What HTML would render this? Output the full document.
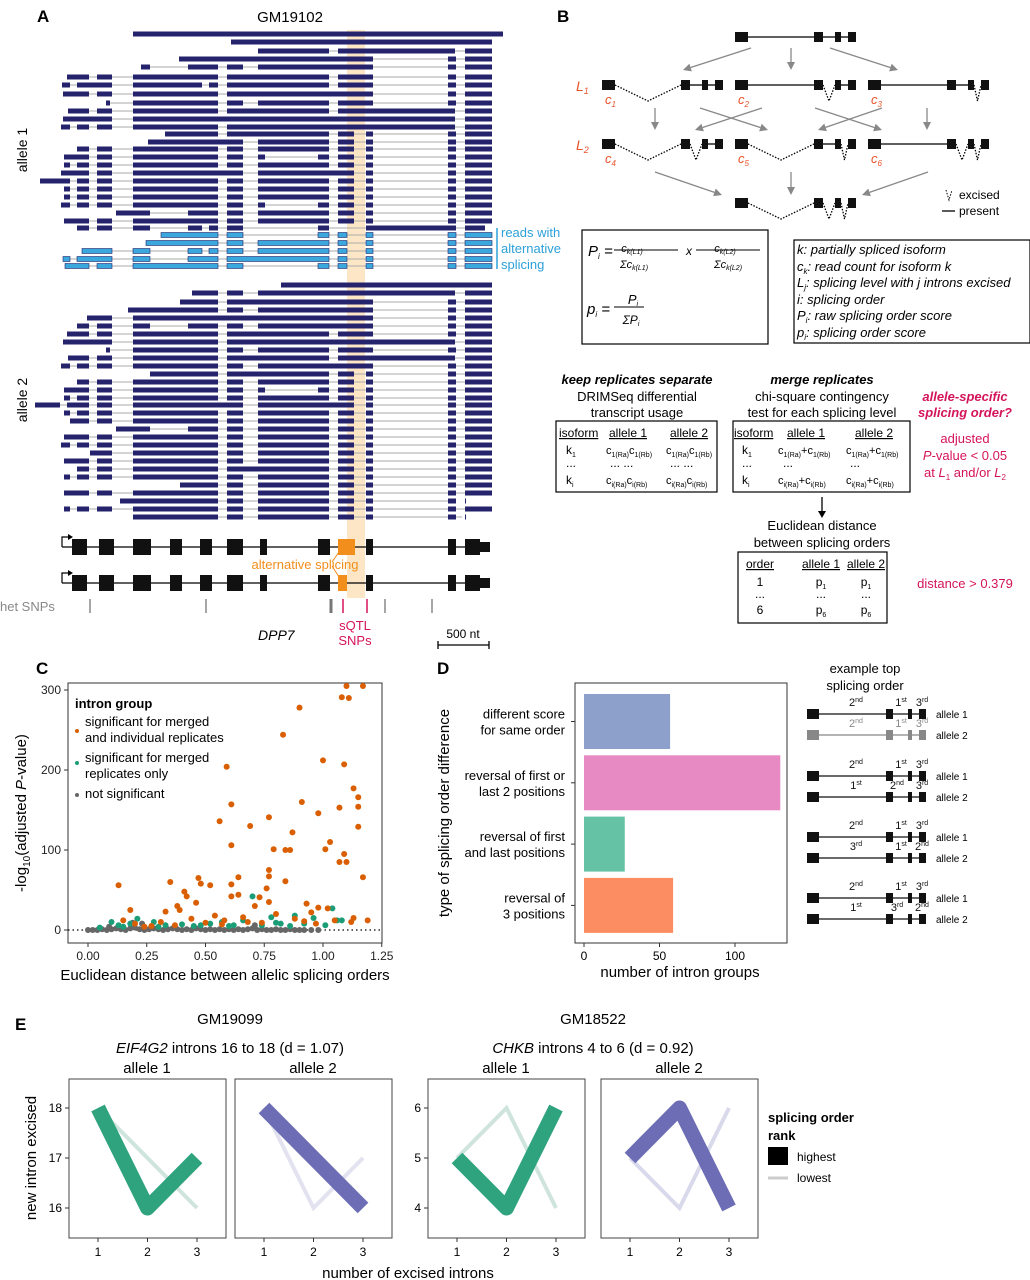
<!DOCTYPE html>
<html><head><meta charset="utf-8"><style>
body{margin:0;background:#fff;}
svg{font-family:"Liberation Sans",Arial,sans-serif;display:block}
</style></head><body>
<svg id="fig" width="1030" height="1280" viewBox="0 0 1030 1280" xmlns="http://www.w3.org/2000/svg">
<!-- Panel labels -->
<text x="37" y="22" font-size="17" font-weight="bold">A</text>
<text x="557" y="22" font-size="17" font-weight="bold">B</text>
<text x="36" y="674" font-size="17" font-weight="bold">C</text>
<text x="437" y="674" font-size="17" font-weight="bold">D</text>
<text x="15" y="1030" font-size="17" font-weight="bold">E</text>

<!-- Panel A -->
<g id="panelA">
<text x="290" y="22" font-size="15" text-anchor="middle">GM19102</text>
<rect x="347" y="30" width="18" height="568" fill="#fde6c6"/>
<g id="reads"></g>
<text transform="translate(27,150) rotate(-90)" font-size="14" text-anchor="middle">allele 1</text>
<text transform="translate(27,400) rotate(-90)" font-size="14" text-anchor="middle">allele 2</text>
<line x1="497" y1="228" x2="497" y2="269" stroke="#2ca0d8" stroke-width="1.5"/>
<text x="501" y="237" font-size="13" fill="#2ca0d8">reads with</text>
<text x="501" y="253" font-size="13" fill="#2ca0d8">alternative</text>
<text x="501" y="269" font-size="13" fill="#2ca0d8">splicing</text>
<g id="genes"></g>
<text x="305" y="569" font-size="13" fill="#f28e1c" text-anchor="middle">alternative splicing</text>
<polyline points="332,562 339,552 M332,566" fill="none" stroke="#f28e1c"/>
<line x1="332" y1="566" x2="339" y2="577" stroke="#f28e1c"/>
<text x="0" y="611" font-size="13" fill="#888">het SNPs</text>
<g id="snps"></g>
<text x="355" y="630" font-size="13" fill="#d4145a" text-anchor="middle">sQTL</text>
<text x="355" y="645" font-size="13" fill="#d4145a" text-anchor="middle">SNPs</text>
<text x="258" y="640" font-size="14" font-style="italic">DPP7</text>
<text x="463" y="638" font-size="12" text-anchor="middle">500 nt</text>
<path d="M438,641 V649 M438,645 H489 M489,641 V649" stroke="#000" stroke-width="1.3" fill="none"/>
</g>

<!-- Panel B -->
<g id="panelB">
<g id="isoforms"></g>
<g id="arrowsB" stroke="#888" stroke-width="1.3" fill="#888"></g>
<text x="576" y="91" font-size="14" font-style="italic" fill="#e8542b">L<tspan font-size="9" dy="3">1</tspan></text>
<text x="576" y="150" font-size="14" font-style="italic" fill="#e8542b">L<tspan font-size="9" dy="3">2</tspan></text>
<path d="M946,190 L949,200 L952,190" stroke="#000" stroke-dasharray="1.5,1.5" fill="none"/>
<text x="959" y="199" font-size="12">excised</text>
<line x1="942" y1="211" x2="955" y2="211" stroke="#000" stroke-width="1.3"/>
<text x="959" y="215" font-size="12">present</text>

<rect x="582" y="230" width="186" height="114" fill="none" stroke="#000" stroke-width="1.2"/>
<g font-style="italic">
<text x="588" y="256" font-size="15">P<tspan font-size="8" dy="3">i</tspan><tspan dy="-3"> =</tspan></text>
<text x="632" y="252" font-size="11" text-anchor="middle">c<tspan font-size="7" dy="2">k(L1)</tspan></text>
<line x1="614" y1="250" x2="678" y2="250" stroke="#000"/>
<text x="634" y="268" font-size="11" text-anchor="middle">Σc<tspan font-size="7" dy="2">k(L1)</tspan></text>
<text x="686" y="255" font-size="12">x</text>
<text x="725" y="252" font-size="11" text-anchor="middle">c<tspan font-size="7" dy="2">k(L2)</tspan></text>
<line x1="696" y1="250" x2="760" y2="250" stroke="#000"/>
<text x="728" y="268" font-size="11" text-anchor="middle">Σc<tspan font-size="7" dy="2">k(L2)</tspan></text>
<text x="587" y="314" font-size="15">p<tspan font-size="8" dy="3">i</tspan><tspan dy="-3"> =</tspan></text>
<text x="633" y="304" font-size="13" text-anchor="middle">P<tspan font-size="7" dy="2">i</tspan></text>
<line x1="614" y1="307" x2="644" y2="307" stroke="#000"/>
<text x="631" y="324" font-size="12" text-anchor="middle">ΣP<tspan font-size="7" dy="2">i</tspan></text>
</g>
<rect x="794" y="240" width="236" height="103" fill="none" stroke="#000" stroke-width="1.2"/>
<g font-size="13" font-style="italic">
<text x="797" y="254">k: partially spliced isoform</text>
<text x="797" y="271">c<tspan font-size="8" dy="3">k</tspan><tspan dy="-3">: read count for isoform k</tspan></text>
<text x="797" y="287">L<tspan font-size="8" dy="3">j</tspan><tspan dy="-3">: splicing level with j introns excised</tspan></text>
<text x="797" y="304">i: splicing order</text>
<text x="797" y="320">P<tspan font-size="8" dy="3">i</tspan><tspan dy="-3">: raw splicing order score</tspan></text>
<text x="797" y="337">p<tspan font-size="8" dy="3">i</tspan><tspan dy="-3">: splicing order score</tspan></text>
</g>

<g font-size="13" text-anchor="middle">
<text x="637" y="384" font-weight="bold" font-style="italic">keep replicates separate</text>
<text x="637" y="401">DRIMSeq differential</text>
<text x="637" y="417">transcript usage</text>
<text x="822" y="384" font-weight="bold" font-style="italic">merge replicates</text>
<text x="822" y="401">chi-square contingency</text>
<text x="822" y="417">test for each splicing level</text>
<text x="965" y="401" font-weight="bold" font-style="italic" fill="#d4145a">allele-specific</text>
<text x="965" y="417" font-weight="bold" font-style="italic" fill="#d4145a">splicing order?</text>
<text x="965" y="443" fill="#d4145a">adjusted</text>
<text x="965" y="460" fill="#d4145a"><tspan font-style="italic">P</tspan>-value &lt; 0.05</text>
<text x="965" y="477" fill="#d4145a">at <tspan font-style="italic">L</tspan><tspan font-size="8" dy="3">1</tspan><tspan dy="-3"> and/or </tspan><tspan font-style="italic">L</tspan><tspan font-size="8" dy="3">2</tspan></text>
<text x="822" y="530">Euclidean distance</text>
<text x="822" y="547">between splicing orders</text>
<text x="965" y="588" fill="#d4145a">distance &gt; 0.379</text>
</g>
<rect x="556" y="421" width="161" height="71" fill="none" stroke="#000" stroke-width="1.2"/>
<g font-size="12">
<text x="559" y="437" text-decoration="underline">isoform</text><text x="609" y="437" text-decoration="underline">allele 1</text><text x="670" y="437" text-decoration="underline">allele 2</text>
<text x="566" y="454">k<tspan font-size="7" dy="3">1</tspan></text><text x="566" y="467">...</text><text x="566" y="484">k<tspan font-size="7" dy="3">i</tspan></text>
<text x="606" y="454" font-size="11">c<tspan font-size="7" dy="3">1(Ra)</tspan><tspan dy="-3">c</tspan><tspan font-size="7" dy="3">1(Rb)</tspan></text>
<text x="666" y="454" font-size="11">c<tspan font-size="7" dy="3">1(Ra)</tspan><tspan dy="-3">c</tspan><tspan font-size="7" dy="3">1(Rb)</tspan></text>
<text x="610" y="467">...  ...</text><text x="670" y="467">...  ...</text>
<text x="606" y="484" font-size="11">c<tspan font-size="7" dy="3">i(Ra)</tspan><tspan dy="-3">c</tspan><tspan font-size="7" dy="3">i(Rb)</tspan></text>
<text x="666" y="484" font-size="11">c<tspan font-size="7" dy="3">i(Ra)</tspan><tspan dy="-3">c</tspan><tspan font-size="7" dy="3">i(Rb)</tspan></text>
</g>
<rect x="733" y="421" width="177" height="71" fill="none" stroke="#000" stroke-width="1.2"/>
<g font-size="12">
<text x="734" y="437" text-decoration="underline">isoform</text><text x="787" y="437" text-decoration="underline">allele 1</text><text x="855" y="437" text-decoration="underline">allele 2</text>
<text x="742" y="454">k<tspan font-size="7" dy="3">1</tspan></text><text x="742" y="467">...</text><text x="742" y="484">k<tspan font-size="7" dy="3">i</tspan></text>
<text x="778" y="454" font-size="11">c<tspan font-size="7" dy="3">1(Ra)</tspan><tspan dy="-3">+c</tspan><tspan font-size="7" dy="3">1(Rb)</tspan></text>
<text x="846" y="454" font-size="11">c<tspan font-size="7" dy="3">1(Ra)</tspan><tspan dy="-3">+c</tspan><tspan font-size="7" dy="3">1(Rb)</tspan></text>
<text x="783" y="467">...</text><text x="850" y="467">...</text>
<text x="778" y="484" font-size="11">c<tspan font-size="7" dy="3">i(Ra)</tspan><tspan dy="-3">+c</tspan><tspan font-size="7" dy="3">i(Rb)</tspan></text>
<text x="846" y="484" font-size="11">c<tspan font-size="7" dy="3">i(Ra)</tspan><tspan dy="-3">+c</tspan><tspan font-size="7" dy="3">i(Rb)</tspan></text>
</g>
<line x1="822" y1="497" x2="822" y2="512" stroke="#000" stroke-width="1.3"/>
<path d="M818,511 L826,511 L822,518 Z" fill="#000"/>
<rect x="738" y="552" width="149" height="71" fill="none" stroke="#000" stroke-width="1.2"/>
<g font-size="12" text-anchor="middle">
<text x="760" y="568" text-decoration="underline">order</text><text x="821" y="568" text-decoration="underline">allele 1</text><text x="866" y="568" text-decoration="underline">allele 2</text>
<text x="760" y="586">1</text><text x="821" y="586">p<tspan font-size="7" dy="3">1</tspan></text><text x="866" y="586">p<tspan font-size="7" dy="3">1</tspan></text>
<text x="760" y="598">...</text><text x="821" y="598">...</text><text x="866" y="598">...</text>
<text x="760" y="614">6</text><text x="821" y="614">p<tspan font-size="7" dy="3">6</tspan></text><text x="866" y="614">p<tspan font-size="7" dy="3">6</tspan></text>
</g>
</g>

<!-- Panel C -->
<g id="panelC">
<rect x="68" y="683" width="314" height="260" fill="#fff" stroke="#333" stroke-width="1"/>
<line x1="68" y1="930" x2="382" y2="930" stroke="#000" stroke-dasharray="1.5,3" stroke-width="1.3"/>
<g id="cAxes"></g>
<g id="cPoints"></g>
<g>
<text x="75" y="708" font-size="13" font-weight="bold">intron group</text>
<circle cx="77" cy="731" r="2" fill="#d95f02"/>
<text x="85" y="726" font-size="13">significant for merged</text>
<text x="85" y="742" font-size="13">and individual replicates</text>
<circle cx="77" cy="763" r="2" fill="#1b9e77"/>
<text x="85" y="762" font-size="13">significant for merged</text>
<text x="85" y="778" font-size="13">replicates only</text>
<circle cx="77" cy="795" r="2" fill="#666"/>
<text x="85" y="798" font-size="13">not significant</text>
</g>
<text transform="translate(26,813) rotate(-90)" font-size="15" text-anchor="middle">-log<tspan font-size="10" dy="4">10</tspan><tspan dy="-4">(adjusted </tspan><tspan font-style="italic">P</tspan>-value)</text>
<text x="225" y="980" font-size="15" text-anchor="middle">Euclidean distance between allelic splicing orders</text>
</g>

<!-- Panel D -->
<g id="panelD">
<rect x="575" y="683" width="212" height="260" fill="#fff" stroke="#333"/>
<g id="dBars"></g>
<text transform="translate(449,813) rotate(-90)" font-size="15" text-anchor="middle">type of splicing order difference</text>
<text x="680" y="977" font-size="15" text-anchor="middle">number of intron groups</text>
<text x="865" y="673" font-size="13" text-anchor="middle">example top</text>
<text x="865" y="690" font-size="13" text-anchor="middle">splicing order</text>
<g id="examples"></g>
</g>

<!-- Panel E -->
<g id="panelE">
<text x="230" y="1024" font-size="15" text-anchor="middle">GM19099</text>
<text x="230" y="1053" font-size="15" text-anchor="middle"><tspan font-style="italic">EIF4G2</tspan> introns 16 to 18 (d = 1.07)</text>
<text x="593" y="1024" font-size="15" text-anchor="middle">GM18522</text>
<text x="593" y="1053" font-size="15" text-anchor="middle"><tspan font-style="italic">CHKB</tspan> introns 4 to 6 (d = 0.92)</text>
<g id="ePanels"></g>
<text transform="translate(36,1158) rotate(-90)" font-size="15" text-anchor="middle">new intron excised</text>
<text x="408" y="1278" font-size="15" text-anchor="middle">number of excised introns</text>
<g>
<text x="768" y="1122" font-size="13" font-weight="bold">splicing order</text>
<text x="768" y="1140" font-size="13" font-weight="bold">rank</text>
<rect x="768" y="1147" width="20" height="18" fill="#000"/>
<text x="797" y="1161" font-size="12">highest</text>
<line x1="768" y1="1178" x2="788" y2="1178" stroke="#ccc" stroke-width="3"/>
<text x="797" y="1182" font-size="12">lowest</text>
</g>
</g>
</svg>
<script>
const NS="http://www.w3.org/2000/svg";
function mk(tag,attrs,parent){const e=document.createElementNS(NS,tag);for(const k in attrs)e.setAttribute(k,attrs[k]);parent.appendChild(e);return e;}

// ---------- Panel A reads ----------
const allele1Reads=["133-503","231-492","258-329,338-455,465-492","179-373,448-456,465-492","141-150,188-218,227-243,258-373,448-456,465-492","67-89,97-112,133-218,227-329,338-373,448-456,465-492","62-70,77-112,133-202,209-218,227-329,338-373,448-456,465-492","63-89,97-112,133-218,227-373,448-456,465-492","106-110,133-218,227-243,258-329,338-373,448-456,465-492","68-89,97-112,133-218,227-329,338-455,465-492","63-112,133-455,465-492","61-70,77-89,97-112,133-218,227-455,465-492","165-218,227-329,338-354,366-373,448-456,465-492","148-243,258-329,338-354,366-373,448-456,465-492","77-89,97-112,133-218,227-243,258-329,338-354,366-373,448-456,465-492","64-89,97-112,133-218,227-243,258-265,318-329,338-354,366-373,448-456,465-492","64-70,77-89,97-112,133-218,227-243,258-329,338-354,366-373,448-456,465-492","61-89,97-112,133-243,258-354,366-373,448-456,465-492","40-70,77-89,97-112,133-218,227-243,258-329,338-354,366-373,448-456,465-492","64-70,77-89,97-112,133-218,227-243,258-329,338-354,366-373,448-456,465-492","64-70,77-89,97-112,133-218,227-243,258-329,338-354,366-373,448-456,465-492","61-70,77-89,97-112,133-218,227-243,258-265,318-329,338-354,366-373,448-456,465-492","116-150,188-218,227-243,258-329,338-354,366-373,448-456,465-492","64-89,97-112,133-218,227-243,258-329,338-354,366-373,448-456,465-492","77-89,97-112,133-150,188-202,209-218,227-243,318-329,366-456,465-485"];
const allele1Y=[34,42,51,59,67,77,85,94,103,111,119,127,134,142,149,157,165,173,181,189,197,205,213,221,228];
const altReads=["161-218,227-243,318-329,338-347,366-373,448-456,465-492","146-218,227-243,258-329,338-347,366-373,448-456,465-492","82-112,133-150,188-202,209-218,227-243,258-329,338-347,366-373,448-456,465-492","63-70,77-112,133-150,188-218,227-329,338-347,366-373,448-456,465-492","65-89,97-112,133-218,227-243,318-329,338-347,366-373,448-456,465-492"];
const altY=[235,243,251,259,266];
const allele2Reads=["281-492","192-218,227-243,258-455,465-492","180-218,227-373,448-456,465-492","128-218,227-243,258-373,448-456,465-492","87-112,133-373,448-456,465-492","77-89,97-112,133-150,188-218,227-243,258-373,448-456,465-492","67-89,97-112,133-218,227-329,338-373,448-456,465-492","63-112,133-218,227-455,465-492","106-110,133-218,227-243,258-329,338-373,448-456,465-492","68-89,97-112,133-218,227-329,338-455,465-492","61-70,77-89,97-112,133-218,227-243,258-373,448-456,465-492","150-218,227-329,338-354,366-373,448-456,465-492","77-89,97-112,133-218,227-243,258-329,338-354,366-373,448-456,465-492","64-89,97-112,133-218,227-243,258-265,318-329,338-354,366-373,448-456,465-492","64-70,77-89,97-112,133-218,227-243,258-329,338-354,366-373,448-456,465-492","35-60,67-89,97-112,133-243,258-354,366-373,448-456,465-492","64-70,77-89,97-112,133-218,227-243,258-329,338-354,366-373,448-456,465-492","70-89,97-112,133-218,227-243,258-329,338-354,366-373,448-456,465-492","116-150,188-218,227-243,258-329,338-354,366-373,448-456,465-492","64-89,97-112,133-218,227-243,258-329,338-354,366-373,448-456,465-492","61-70,77-89,97-112,133-218,227-243,258-329,338-354,366-373,448-456,465-492","90-112,133-218,227-243,258-329,338-354,366-373,448-456,465-492","64-89,97-112,133-218,227-243,258-329,338-354,366-373,448-456,465-492","77-89,97-112,133-218,227-329,338-354,366-373,448-456,465-492","64-70,77-89,97-112,133-218,227-243,258-329,338-354,366-373,448-456,465-492","180-218,227-243,258-329,338-354,366-373,448-456,465-492","64-89,97-112,133-218,227-243,258-329,338-354,366-373,448-456,465-492","120-218,227-243,258-329,338-354,366-373,448-456,465-455","64-70,77-89,97-112,133-218,227-243,258-329,338-354,366-373,448-456,465-492","133-218,227-243,258-329,338-354,366-373,448-456,465-462"];
const allele2Y=[285,293,302,310,318,326,334,342,350,358,366,374,382,390,398,405,413,421,429,437,445,453,461,469,477,485,493,501,509,517];
const readsG=document.getElementById('reads');
function drawRead(str,y,fill,stroke,name){
  const segs=str.split(',').map(s=>s.split('-').map(Number));
  const x0=segs[0][0], x1=Math.max(...segs.map(s=>s[1]));
  const g=mk('g',{},readsG);
  
  
  mk('line',{x1:x0,y1:y,x2:x1,y2:y,stroke:'#aaa','stroke-width':1},g);
  segs.forEach(s=>{mk('rect',{x:s[0],y:y-2.5,width:Math.max(1,s[1]-s[0]),height:5,fill:fill,stroke:stroke,'stroke-width':stroke==='none'?0:0.6},g);});
}
allele1Reads.forEach((r,i)=>drawRead(r,allele1Y[i],'#24236b','none','allele1-read'));
altReads.forEach((r,i)=>drawRead(r,altY[i],'#3aa8dc','#24236b','alt-splicing-read'));
allele2Reads.forEach((r,i)=>drawRead(r,allele2Y[i],'#24236b','none','allele2-read'));

// gene models
const geneExons=[[72,87],[99,114],[133,151],[170,182],[200,212],[227,243],[260,267],[318,330],[366,373],[448,456],[465,480]];
const genesG=document.getElementById('genes');
[[547,[338,355]],[583,[338,347]]].forEach((gm,gi)=>{
  const y=gm[0];
  const g=mk('g',{},genesG);
  
  
  mk('line',{x1:62,y1:y,x2:490,y2:y,stroke:'#000','stroke-width':1.3},g);
  mk('path',{d:`M62,${y} V${y-10} H70`,stroke:'#000',fill:'none','stroke-width':1.2},g);
  mk('path',{d:`M68,${y-13} L73,${y-10} L68,${y-7}Z`,fill:'#000'},g);
  geneExons.forEach(e=>mk('rect',{x:e[0],y:y-8,width:e[1]-e[0],height:16,fill:'#111'},g));
  mk('rect',{x:480,y:y-5,width:10,height:10,fill:'#111'},g);
  mk('rect',{x:gm[1][0],y:y-8,width:gm[1][1]-gm[1][0],height:16,fill:'#f28e1c'},g);
});
const snpG=document.getElementById('snps');
[[90,'#888',1.5],[206,'#888',1.5],[331,'#777',3],[343,'#d4145a',1.5],[367,'#d4145a',1.5],[385,'#888',1.5],[432,'#888',1.5]].forEach(s=>{
  const l=mk('line',{x1:s[0],y1:599,x2:s[0],y2:613,stroke:s[1],'stroke-width':s[2]},snpG);
  
  
});

// ---------- Panel B isoforms ----------
const isoG=document.getElementById('isoforms');
// exon boxes relative to start; introns between
const isoBoxes=[[0,13],[79,88],[100,106],[113,121]];
// [startX, y, excised introns (0,1,2), label]
const isoList=[[735,37,[],''],[602,85,[0],'c1'],[735,85,[1],'c2'],[868,85,[2],'c3'],[602,144,[0,1],'c4'],[735,144,[0,2],'c5'],[868,144,[1,2],'c6'],[735,203,[0,1,2],'']];
isoList.forEach(iso=>{
  const [sx,y,ex,lab]=iso;
  const g=mk('g',{},isoG);
  
  
  for(let k=0;k<3;k++){
    const a=sx+isoBoxes[k][1], b=sx+isoBoxes[k+1][0];
    if(ex.includes(k)){
      mk('path',{d:`M${a},${y} L${(a+b)/2},${y+16} L${b},${y}`,stroke:'#000','stroke-width':1.3,'stroke-dasharray':'1.5,1.5',fill:'none'},g);
    } else mk('line',{x1:a,y1:y,x2:b,y2:y,stroke:'#000','stroke-width':1.3},g);
  }
  isoBoxes.forEach(bx=>mk('rect',{x:sx+bx[0],y:y-5,width:bx[1]-bx[0],height:10,fill:'#111'},g));
  if(lab){const t=mk('text',{x:sx+3,y:y+19,'font-size':13,'font-style':'italic',fill:'#e8542b'},g);t.textContent='c';const ts=mk('tspan',{'font-size':8,dy:3},t);ts.textContent=lab.slice(1);}
});
const arrows=[[751,48,683,70],[791,48,791,70],[830,48,898,70],[655,108,655,130],[700,108,768,130],[762,108,695,130],[815,108,882,130],[882,108,818,130],[927,108,927,130],[655,172,722,195],[791,172,791,195],[928,172,862,195]];
const arG=document.getElementById('arrowsB');
arrows.forEach(a=>{
  const [x1,y1,x2,y2]=a;const ang=Math.atan2(y2-y1,x2-x1);const L=8,W=4;
  const bx=x2-L*Math.cos(ang),by=y2-L*Math.sin(ang);
  const g=mk('g',{},arG);
  
  
  mk('line',{x1:x1,y1:y1,x2:bx,y2:by},g);
  mk('path',{d:`M${x2},${y2} L${bx-W*Math.sin(ang)},${by+W*Math.cos(ang)} L${bx+W*Math.sin(ang)},${by-W*Math.cos(ang)}Z`,stroke:'none'},g);
});

// ---------- Panel C scatter ----------
const sigX=[0.13,0.18,0.15,0.35,0.33,0.38,0.39,0.41,0.42,0.46,0.47,0.48,0.52,0.56,0.59,0.61,0.61,0.61,0.61,0.64,0.64,0.69,0.71,0.73,0.76,0.77,0.77,0.77,0.77,0.79,0.83,0.84,0.84,0.86,0.87,0.90,0.91,0.93,0.98,1.00,1.01,1.03,0.98,1.02,1.07,1.07,1.09,1.08,1.11,1.09,1.10,1.13,1.15,1.15,1.15,1.17,1.10,1.17,1.13,1.19,0.20,0.27,0.31,0.44,0.50,0.54,0.58,0.66,0.68,0.80,0.88,0.95,0.97,1.05,1.12,0.24,0.37,0.57,0.74,0.92];
const sigY=[56,25,12,60,23,30,25,48,42,34,65,58,56,136,204,157,106,57,42,66,44,130,30,41,52,141,75,67,35,101,244,61,100,100,122,278,160,33,146,212,101,110,28,27,153,85,207,291,290,95,85,177,166,154,129,66,305,305,15,12,8,5,10,14,9,18,12,16,10,20,14,22,8,12,10,4,6,7,9,11];
const mergedX=[0.05,0.10,0.13,0.18,0.21,0.28,0.33,0.40,0.45,0.52,0.57,0.62,0.66,0.70,0.74,0.78,0.82,0.86,0.88,0.96,1.01,1.04,1.06,1.08,0.30,0.60,0.92,0.15,0.48,0.80];
const mergedY=[3,10,6,8,14,10,6,7,5,8,10,6,12,42,6,16,8,5,18,15,6,27,12,12,4,5,8,4,6,9];
const nsX=[0.00,0.02,0.04,0.06,0.08,0.10,0.12,0.14,0.16,0.18,0.20,0.22,0.24,0.26,0.28,0.30,0.32,0.34,0.36,0.38,0.40,0.42,0.44,0.46,0.48,0.50,0.52,0.54,0.56,0.58,0.60,0.62,0.64,0.66,0.68,0.70,0.72,0.74,0.76,0.78,0.80,0.82,0.84,0.86,0.88,0.90,0.92,0.95,0.98,0.19,0.23,0.09,0.71];
const nsY=[0,0,0,1,0,1,2,1,0,2,3,1,0,1,2,1,0,1,2,1,0,1,0,2,1,0,1,0,1,0,1,0,1,0,1,2,0,1,0,0,1,0,0,1,0,0,0,0,0,9,8,4,6];
const cTicksX=[0,0.25,0.5,0.75,1.0,1.25];
const cTickLabelsX=["0.00","0.25","0.50","0.75","1.00","1.25"];
const cTicksY=[0,100,200,300];
const xC=v=>88+v*235, yC=v=>930-v*0.8;
const cAx=document.getElementById('cAxes');
cTicksX.forEach((t,i)=>{
  mk('line',{x1:xC(t),y1:943,x2:xC(t),y2:947,stroke:'#333'},cAx);
  const tx=mk('text',{x:xC(t),y:960,'font-size':12,'text-anchor':'middle',fill:'#222'},cAx);
  tx.textContent=cTickLabelsX[i];
  
  
});
cTicksY.forEach(t=>{
  mk('line',{x1:64,y1:yC(t),x2:68,y2:yC(t),stroke:'#333'},cAx);
  const tx=mk('text',{x:61,y:yC(t)+4,'font-size':12,'text-anchor':'end',fill:'#222'},cAx);
  tx.textContent=t;
  
  
});
const cP=document.getElementById('cPoints');
nsX.forEach((x,i)=>{const c=mk('circle',{cx:xC(x),cy:yC(nsY[i]),r:3,fill:'#666'},cP);
  
  });
mergedX.forEach((x,i)=>{const c=mk('circle',{cx:xC(x),cy:yC(mergedY[i]),r:3,fill:'#1b9e77'},cP);
  
  });
sigX.forEach((x,i)=>{const c=mk('circle',{cx:xC(x),cy:Math.max(686,yC(sigY[i])),r:3,fill:'#d95f02'},cP);
  
  });

// ---------- Panel D bars ----------
const dCategories=[["different score","for same order"],["reversal of first or","last 2 positions"],["reversal of first","and last positions"],["reversal of","3 positions"]];
const dValues=[57,130,27,59];
const dColors=["#8da0cb","#e78ac3","#66c2a5","#fc8d62"];
const dTicks=[0,50,100];
const xD=v=>584+v*1.51;
const dG=document.getElementById('dBars');
dValues.forEach((v,i)=>{
  const y0=694+i*61.3;
  const r=mk('rect',{x:xD(0),y:y0,width:xD(v)-xD(0),height:55,fill:dColors[i]},dG);
  
  
  const cy=y0+27.5;
  dCategories[i].forEach((ln,j)=>{
    const t=mk('text',{x:565,y:cy-3+j*16,'font-size':13,'text-anchor':'end'},dG);
    t.textContent=ln;
    
    
  });
  mk('line',{x1:571,y1:cy,x2:575,y2:cy,stroke:'#333'},dG);
});
dTicks.forEach(t=>{
  mk('line',{x1:xD(t),y1:943,x2:xD(t),y2:947,stroke:'#333'},dG);
  const tx=mk('text',{x:xD(t),y:960,'font-size':12,'text-anchor':'middle'},dG);
  tx.textContent=t;
  
  
});
// examples
const exG=document.getElementById('examples');
const exRows=[[714,["2nd","1st","3rd"],'#111','allele 1'],[735,["2nd","1st","3rd"],'#888','allele 2'],[776,["2nd","1st","3rd"],'#111','allele 1'],[797,["1st","2nd","3rd"],'#111','allele 2'],[837,["2nd","1st","3rd"],'#111','allele 1'],[858,["3rd","1st","2nd"],'#111','allele 2'],[898,["2nd","1st","3rd"],'#111','allele 1'],[919,["1st","3rd","2nd"],'#111','allele 2']];
exRows.forEach(r=>{
  const [y,ords,col,lab]=r;
  const g=mk('g',{},exG);
  
  
  mk('line',{x1:807,y1:y,x2:926,y2:y,stroke:col,'stroke-width':1.3},g);
  [[807,819],[886,893],[908,912],[919,926]].forEach(b=>mk('rect',{x:b[0],y:y-5,width:b[1]-b[0],height:10,fill:col},g));
  const ox=[856,ords[1]==='1st'?901:897,922];
  ords.forEach((o,k)=>{const t=mk('text',{x:ox[k],y:y-8,'font-size':11,'text-anchor':'middle',fill:col},g);t.textContent=o.slice(0,1);const s=mk('tspan',{'font-size':7,dy:-4},t);s.textContent=o.slice(1);});
  const t=mk('text',{x:936,y:y+4,'font-size':10},g);t.textContent=lab;
});

// ---------- Panel E ----------
const eX=[1,2,3];
const eif4g2A1Top=[18,16,17], eif4g2A1Low=[18,17,16];
const eif4g2A2Top=[18,17,16], eif4g2A2Low=[18,16,17];
const chkbA1Top=[5,4,6], chkbA1Low=[5,6,4];
const chkbA2Top=[5,6,4], chkbA2Low=[5,4,6];
const ePanels=[[69,'allele 1',18,eif4g2A1Top,eif4g2A1Low,'#2fa37e','#cfe4dc',[16,17,18]],[235,'allele 2',18,eif4g2A2Top,eif4g2A2Low,'#6c6db4','#e2e2f0',null],[428,'allele 1',6,chkbA1Top,chkbA1Low,'#2fa37e','#cfe4dc',[4,5,6]],[601,'allele 2',6,chkbA2Top,chkbA2Low,'#6c6db4','#d9d9ec',null]];
const eG=document.getElementById('ePanels');
ePanels.forEach((p,pi)=>{
  const [L,lab,ymax,top,low,col,lcol,yt]=p;
  const xE=n=>L+29+(n-1)*49.5, yE=v=>1108+(ymax-v)*50;
  const g=mk('g',{},eG);
  
  
  mk('rect',{x:L,y:1079,width:157,height:159,fill:'#fff',stroke:'#444','stroke-width':1},g);
  const t=mk('text',{x:L+78,y:1073,'font-size':15,'text-anchor':'middle'},g);t.textContent=lab;
  const lowPts=eX.map((x,i)=>xE(x)+','+yE(low[i])).join(' ');
  const lp=mk('polyline',{points:lowPts,fill:'none',stroke:lcol,'stroke-width':4,'stroke-linejoin':'miter'},g);
  
  
  const topPts=eX.map((x,i)=>xE(x)+','+yE(top[i])).join(' ');
  const tp=mk('polyline',{points:topPts,fill:'none',stroke:col,'stroke-width':15,'stroke-linejoin':'round'},g);
  
  
  eX.forEach(x=>{mk('line',{x1:xE(x),y1:1238,x2:xE(x),y2:1242,stroke:'#333'},g);const tx=mk('text',{x:xE(x),y:1256,'font-size':12,'text-anchor':'middle'},g);tx.textContent=x;});
  if(yt){yt.forEach(v=>{mk('line',{x1:L-4,y1:yE(v),x2:L,y2:yE(v),stroke:'#333'},g);const tx=mk('text',{x:L-7,y:yE(v)+4,'font-size':12,'text-anchor':'end'},g);tx.textContent=v;});}
});
</script>
</body></html>
